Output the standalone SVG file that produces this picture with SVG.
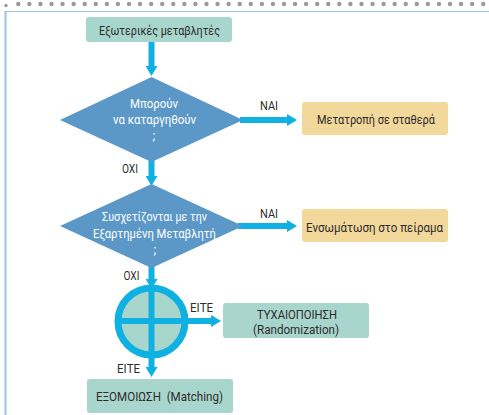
<svg xmlns="http://www.w3.org/2000/svg" width="489" height="415" viewBox="0 0 489 415">
  <style>
    .lbl { font-family: Roboto, "Liberation Sans", sans-serif; font-size: 13.5px; fill: #2b2b2b; text-anchor: middle; white-space: pre; }
    .two { font-size: 12px; }
    .wht { font-family: Roboto, "Liberation Sans", sans-serif; font-size: 13.5px; fill: #ffffff; text-anchor: middle; }
    .edge { font-family: Roboto, "Liberation Sans", sans-serif; font-size: 12px; fill: #2b2b2b; text-anchor: middle; }
    .green { fill: #a9d6cc; }
    .sand { fill: #f3d89c; }
    .dia { fill: #5b98c8; }
    .flow { stroke: #0fb0e2; stroke-width: 6; fill: none; }
  </style>
  <defs>
    <marker id="head" viewBox="0 0 10 12" refX="1" refY="6" markerWidth="10" markerHeight="12" markerUnits="userSpaceOnUse" orient="auto">
      <path d="M0,0 L10,6 L0,12 z" fill="#0fb0e2"/>
    </marker>
  </defs>

  <!-- page frame -->
  <g id="frame">
    <line x1="18.3" y1="4" x2="484" y2="4" stroke="#9a9a9a" stroke-width="4.4" stroke-linecap="round" stroke-dasharray="0 11.07"/>
    <circle cx="6" cy="5.5" r="1.7" fill="#9a9a9a"/>
    <line x1="5" y1="11.5" x2="489" y2="11.5" stroke="#9cc3e3" stroke-width="1.2"/>
    <line x1="5.5" y1="11" x2="5.5" y2="415" stroke="#9cc3e3" stroke-width="2"/>
  </g>

  <!-- connectors -->
  <g id="connectors">
    <line class="flow" x1="151.5" y1="42" x2="151.5" y2="67" marker-end="url(#head)"/>
    <line class="flow" x1="240" y1="120" x2="288" y2="120" marker-end="url(#head)"/>
    <line class="flow" x1="151.5" y1="158" x2="151.5" y2="177" marker-end="url(#head)"/>
    <line class="flow" x1="238" y1="226" x2="288" y2="226" marker-end="url(#head)"/>
    <line class="flow" x1="151.5" y1="266" x2="151.5" y2="280" marker-end="url(#head)"/>
    <text class="edge" x="269" y="110" textLength="18" lengthAdjust="spacingAndGlyphs">ΝΑΙ</text>
    <text class="edge" x="130" y="173" textLength="16" lengthAdjust="spacingAndGlyphs">ΟΧΙ</text>
    <text class="edge" x="269" y="218" textLength="18" lengthAdjust="spacingAndGlyphs">ΝΑΙ</text>
    <text class="edge" x="131.5" y="280" textLength="16" lengthAdjust="spacingAndGlyphs">ΟΧΙ</text>
    <text class="edge" x="201.5" y="311.5" textLength="23" lengthAdjust="spacingAndGlyphs">ΕΙΤΕ</text>
    <text class="edge" x="128.5" y="373.3" textLength="23" lengthAdjust="spacingAndGlyphs">ΕΙΤΕ</text>
  </g>

  <g id="start">
    <rect class="green" x="86" y="17" width="146" height="25" rx="3"/>
    <text class="lbl" x="159.5" y="34.5" textLength="121" lengthAdjust="spacingAndGlyphs">Εξωτερικές μεταβλητές</text>
  </g>

  <g id="decision1">
    <polygon class="dia" points="151.5,77 243,120 151.5,162 60,120"/>
    <text class="wht" x="154" y="108.3" textLength="48" lengthAdjust="spacingAndGlyphs">Μπορούν</text>
    <text class="wht" x="154.5" y="124.3" textLength="83" lengthAdjust="spacingAndGlyphs">να καταργηθούν</text>
    <text class="wht" x="154" y="139.5">;</text>
  </g>

  <g id="constant">
    <rect class="sand" x="302" y="102" width="146" height="33" rx="3"/>
    <text class="lbl" x="376" y="124" textLength="118" lengthAdjust="spacingAndGlyphs">Μετατροπή σε σταθερά</text>
  </g>

  <g id="decision2">
    <polygon class="dia" points="151.5,184 243,226 151.5,268 60,226"/>
    <text class="wht" x="154.5" y="220.7" textLength="105" lengthAdjust="spacingAndGlyphs">Συσχετίζονται με την</text>
    <text class="wht" x="154.5" y="238.3" textLength="123" lengthAdjust="spacingAndGlyphs">Εξαρτημένη Μεταβλητή</text>
    <text class="wht" x="155" y="254">;</text>
  </g>

  <g id="include">
    <rect class="sand" x="302" y="209" width="146" height="33" rx="3"/>
    <text class="lbl" x="374.5" y="231.5" textLength="137" lengthAdjust="spacingAndGlyphs">Ενσωμάτωση στο πείραμα</text>
  </g>

  <g id="either">
    <circle cx="151.5" cy="321.5" r="33.5" fill="#a9d6cc" stroke="#0fb0e2" stroke-width="7"/>
    <line class="flow" x1="116" y1="321" x2="212" y2="321" marker-end="url(#head)"/>
    <line class="flow" x1="151.5" y1="286" x2="151.5" y2="368" marker-end="url(#head)"/>
  </g>

  <g id="randomization">
    <rect class="green" x="223" y="303" width="146" height="35" rx="3"/>
    <text class="lbl two" x="297" y="318.8" textLength="80" lengthAdjust="spacingAndGlyphs">ΤΥΧΑΙΟΠΟΙΗΣΗ</text>
    <text class="lbl two" x="296" y="333.5" textLength="86" lengthAdjust="spacingAndGlyphs">(Randomization)</text>
  </g>

  <g id="matching">
    <rect class="green" x="87" y="379" width="146" height="34" rx="3"/>
    <text class="lbl" x="159.5" y="400.7" textLength="127" lengthAdjust="spacingAndGlyphs">ΕΞΟΜΟΙΩΣΗ  (Matching)</text>
  </g>
</svg>
